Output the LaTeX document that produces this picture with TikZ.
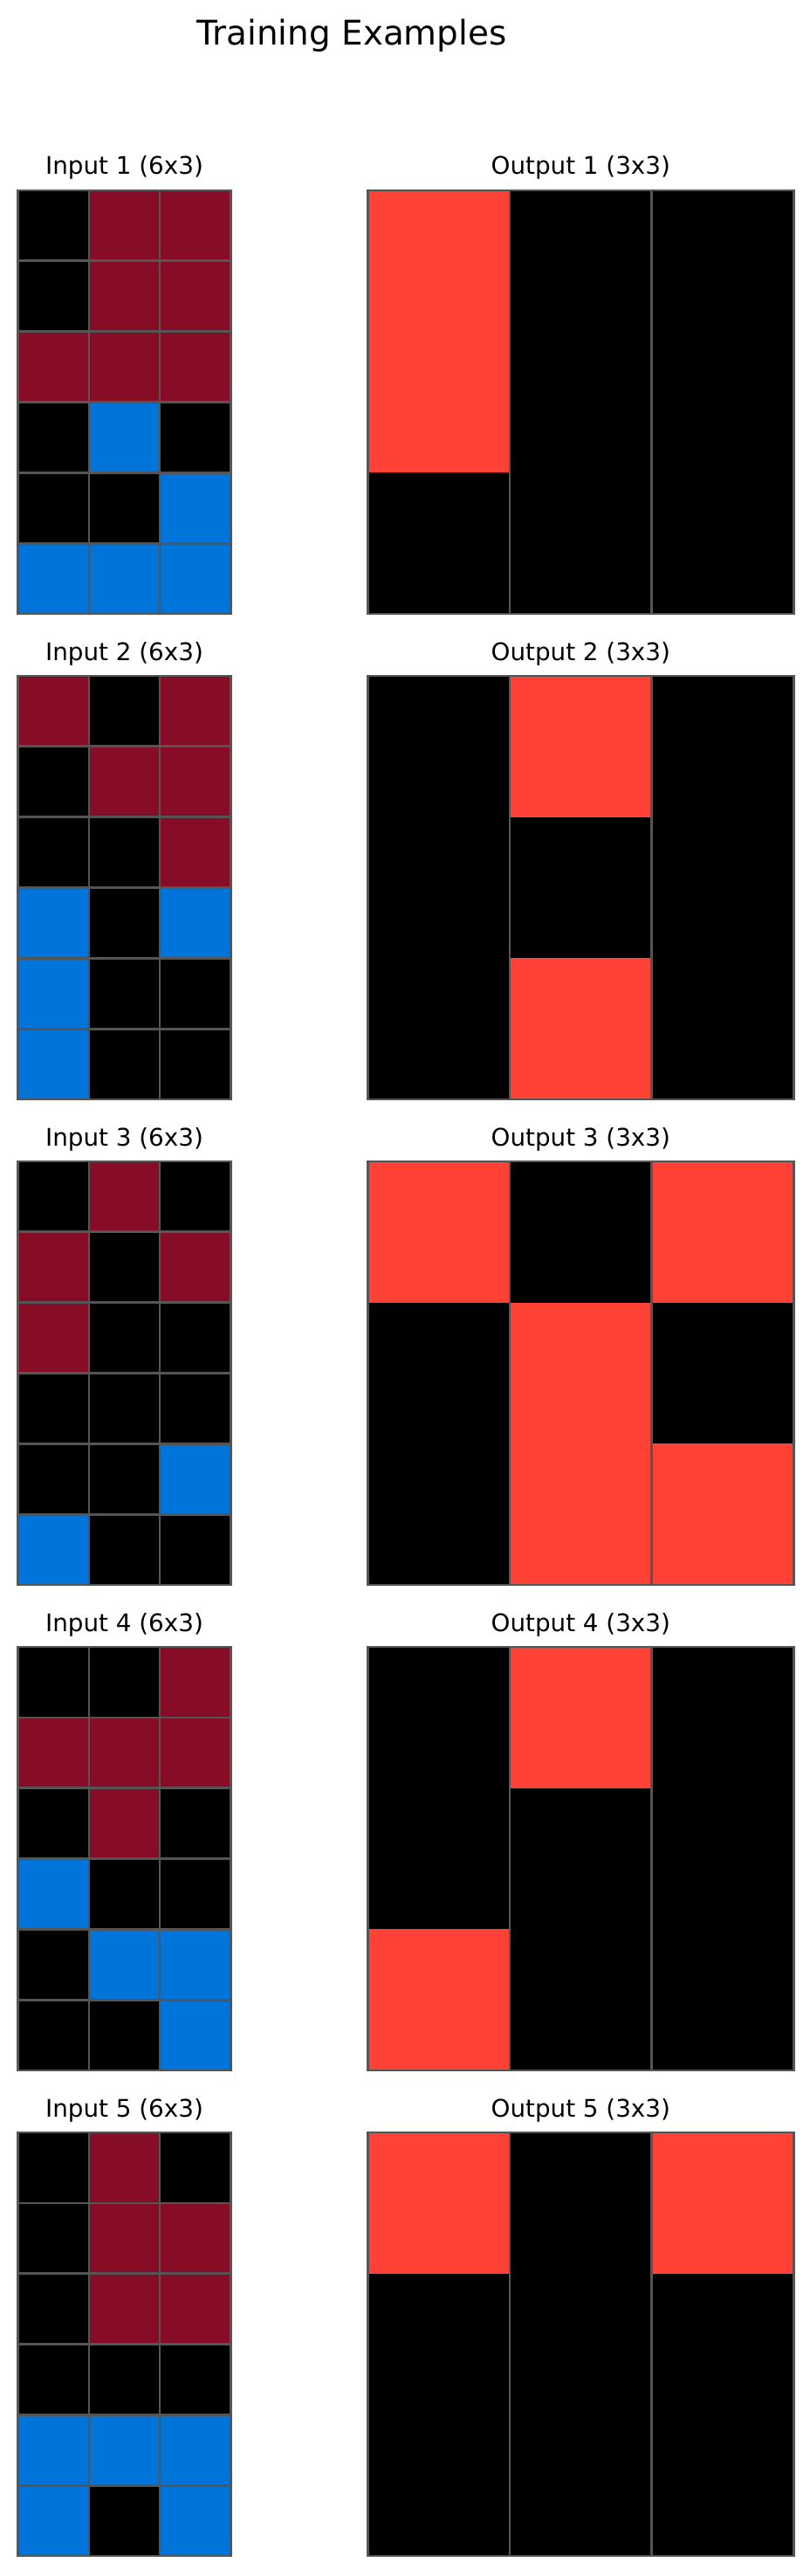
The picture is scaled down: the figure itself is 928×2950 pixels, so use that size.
\documentclass[tikz,border=0pt]{standalone}
\usepackage{fontspec}
\setmainfont{DejaVu Sans}
\definecolor{cK}{HTML}{000000}
\definecolor{cM}{HTML}{870C25}
\definecolor{cB}{HTML}{0074D9}
\definecolor{cR}{HTML}{FF4136}
\definecolor{gridgray}{HTML}{555555}
\tikzset{
  gridline/.style={draw=gridgray,line width=0.97pt},
  lab/.style={anchor=base,font=\fontsize{10}{12}\selectfont,inner sep=0pt},
  ttl/.style={anchor=base,font=\fontsize{14}{17}\selectfont,inner sep=0pt}
}
\newcommand\drawinput[2]{%
  \foreach \row [count=\ri from 0] in {#2} {
    \foreach \k [count=\ci from 0] in \row {
      \fill[\k] ({20.7+\ci*81.2},{#1+218+\ri*80.8333}) rectangle ++(81.2,80.8333);
    }
  }
  \foreach \i in {1,2} \draw[gridline] ({20.7+\i*81.2},{#1+218}) -- ++(0,485);
  \foreach \j in {1,...,5} \draw[gridline] (20.7,{#1+218+\j*80.8333}) -- ++(243.6,0);
  \draw[gridline] (20.7,{#1+218}) rectangle ++(243.6,485);
}
\newcommand\drawoutput[2]{%
  \foreach \row [count=\ri from 0] in {#2} {
    \foreach \k [count=\ci from 0] in \row {
      \fill[\k] ({421.3+\ci*162.6667},{#1+218+\ri*161.6667}) rectangle ++(162.6667,161.6667);
    }
  }
  \foreach \i in {1,2} \draw[gridline] ({421.3+\i*162.6667},{#1+218}) -- ++(0,485);
  \draw[gridline] (421.3,{#1+218}) rectangle ++(488,485);
}
\begin{document}
\begin{tikzpicture}[x=0.36pt,y=-0.36pt]
\useasboundingbox (0,0) rectangle (928,2950);
\node[ttl] (title) at (403,51.7) {Training Examples};

% Example 1
\node[lab] (in1) at (142.5,200) {Input 1 (6x3)};
\node[lab] (out1) at (665.3,200) {Output 1 (3x3)};
\drawinput{0}{{cK,cM,cM},{cK,cM,cM},{cM,cM,cM},{cK,cB,cK},{cK,cK,cB},{cB,cB,cB}}
\drawoutput{0}{{cR,cK,cK},{cR,cK,cK},{cK,cK,cK}}

% Example 2
\node[lab] (in2) at (142.5,756) {Input 2 (6x3)};
\node[lab] (out2) at (665.3,756) {Output 2 (3x3)};
\drawinput{556}{{cM,cK,cM},{cK,cM,cM},{cK,cK,cM},{cB,cK,cB},{cB,cK,cK},{cB,cK,cK}}
\drawoutput{556}{{cK,cR,cK},{cK,cK,cK},{cK,cR,cK}}

% Example 3
\node[lab] (in3) at (142.5,1312) {Input 3 (6x3)};
\node[lab] (out3) at (665.3,1312) {Output 3 (3x3)};
\drawinput{1112}{{cK,cM,cK},{cM,cK,cM},{cM,cK,cK},{cK,cK,cK},{cK,cK,cB},{cB,cK,cK}}
\drawoutput{1112}{{cR,cK,cR},{cK,cR,cK},{cK,cR,cR}}

% Example 4
\node[lab] (in4) at (142.5,1868) {Input 4 (6x3)};
\node[lab] (out4) at (665.3,1868) {Output 4 (3x3)};
\drawinput{1668}{{cK,cK,cM},{cM,cM,cM},{cK,cM,cK},{cB,cK,cK},{cK,cB,cB},{cK,cK,cB}}
\drawoutput{1668}{{cK,cR,cK},{cK,cK,cK},{cR,cK,cK}}

% Example 5
\node[lab] (in5) at (142.5,2424) {Input 5 (6x3)};
\node[lab] (out5) at (665.3,2424) {Output 5 (3x3)};
\drawinput{2224}{{cK,cM,cK},{cK,cM,cM},{cK,cM,cM},{cK,cK,cK},{cB,cB,cB},{cB,cK,cB}}
\drawoutput{2224}{{cR,cK,cR},{cK,cK,cK},{cK,cK,cK}}
\end{tikzpicture}
\end{document}
